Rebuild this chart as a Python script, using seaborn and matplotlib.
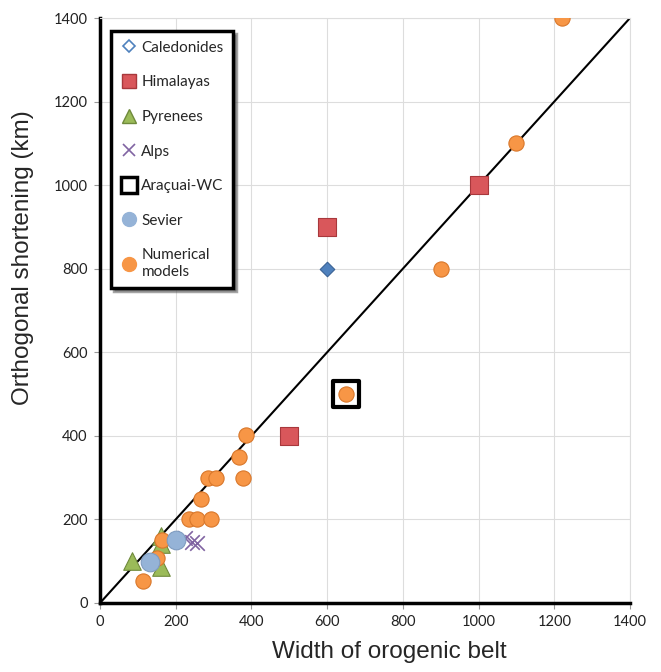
import pandas as pd
import numpy as np
import matplotlib.pyplot as plt
import seaborn as sns
from matplotlib.lines import Line2D

# Datos
caledonides_x = [600]
caledonides_y = [800]
himalayas_x = [600, 1000, 500]
himalayas_y = [900, 1000, 400]
pyrenees_x = [85, 160, 160, 160]
pyrenees_y = [100, 160, 140, 85]
alps_x = [225, 242, 257]
alps_y = [155, 147, 143]
aracuai_x = [650]
aracuai_y = [500]
sevier_x = [132, 202]
sevier_y = [99, 151]
models_x = [1220, 1100, 900, 650, 386, 368, 377, 286, 306, 268, 236, 255, 292, 165, 150, 113]
models_y = [1400, 1100, 800, 500, 402, 350, 300, 300, 300, 250, 200, 200, 200, 151, 107, 53]
ticks = [0, 200, 400, 600, 800, 1000, 1200, 1400]

sns.set_style("white")
plt.rcParams['font.family'] = ['Lato', 'DejaVu Sans']

fig = plt.figure(figsize=(6.61, 6.72), dpi=100)
ax = fig.add_axes([0.1513, 0.1027, 0.8018, 0.8705])

ax.set_xlim(0, 1400)
ax.set_ylim(0, 1400)
ax.set_xticks(ticks)
ax.set_yticks(ticks)
ax.grid(True, color="#dddddd", lw=0.8)
ax.set_axisbelow(True)

# linea 1:1
ax.plot([0, 1400], [0, 1400], color="black", lw=1.5, zorder=2)

sns.scatterplot(x=caledonides_x, y=caledonides_y, marker="D", s=55, color="#4f81bd",
                edgecolor="#3a6295", linewidth=0.8, ax=ax, zorder=3)
sns.scatterplot(x=himalayas_x, y=himalayas_y, marker="s", s=150, color="#d9575b",
                edgecolor="#a8383c", linewidth=0.8, ax=ax, zorder=3)
sns.scatterplot(x=pyrenees_x, y=pyrenees_y, marker="^", s=160, color="#9bbb59",
                edgecolor="#6f8a3c", linewidth=0.8, ax=ax, zorder=3)
sns.scatterplot(x=alps_x, y=alps_y, marker="x", s=110, color="#8064a2",
                linewidth=1.2, ax=ax, zorder=3)
sns.scatterplot(x=models_x, y=models_y, marker="o", s=120, color="#f79646",
                edgecolor="#d9772a", linewidth=0.8, ax=ax, zorder=4)
sns.scatterplot(x=sevier_x, y=sevier_y, marker="o", s=180, color="#95b3d7",
                edgecolor="#7f9cc0", linewidth=0.8, ax=ax, zorder=5)
sns.scatterplot(x=aracuai_x, y=aracuai_y, marker="s", s=330, facecolor="none",
                edgecolor="black", linewidth=3, ax=ax, zorder=5)

for s in ["top", "right"]:
    ax.spines[s].set_color("#dddddd")
    ax.spines[s].set_linewidth(0.8)
for s in ["left", "bottom"]:
    ax.spines[s].set_color("black")
    ax.spines[s].set_linewidth(2.5)

ax.tick_params(axis="both", direction="out", length=4, color="#999999",
               labelsize=10.5, labelcolor="#222222", bottom=True, left=True, pad=5)
lab_font = ['Liberation Sans', 'DejaVu Sans']
ax.set_xlabel("Width of orogenic belt", fontsize=17.5, family=lab_font)
ax.set_ylabel("Orthogonal shortening (km)", fontsize=17.5, family=lab_font)
ax.xaxis.set_label_coords(0.545, -0.065)
ax.yaxis.set_label_coords(-0.125, 0.59)

handles = [
    Line2D([], [], ls="", marker="D", ms=6, mfc="white", mec="#4f81bd", mew=1.2),
    Line2D([], [], ls="", marker="s", ms=10, mfc="#d9575b", mec="#a8383c"),
    Line2D([], [], ls="", marker="^", ms=10, mfc="#9bbb59", mec="#6f8a3c"),
    Line2D([], [], ls="", marker="x", ms=9, mec="#8064a2", mew=1.2),
    Line2D([], [], ls="", marker="s", ms=12, mfc="white", mec="black", mew=2.5),
    Line2D([], [], ls="", marker="o", ms=10, mfc="#95b3d7", mec="#95b3d7"),
    Line2D([], [], ls="", marker="o", ms=10, mfc="#f79646", mec="#f79646"),
]
labels = ["Caledonides", "Himalayas", "Pyrenees", "Alps", "Araçuai-WC", "Sevier", "Numerical\nmodels"]
leg = ax.legend(handles, labels, loc="upper left", bbox_to_anchor=(0.006, 0.99), fontsize=11,
                labelspacing=1.35, handletextpad=0.2, handlelength=1.2, borderpad=0.6,
                frameon=True, fancybox=False, shadow=True, edgecolor="black")
leg.get_frame().set_linewidth(2.5)
leg.set_zorder(10)

plt.savefig("out.png", dpi=100)
